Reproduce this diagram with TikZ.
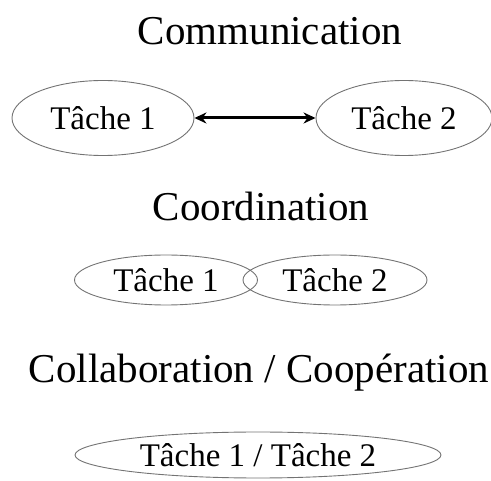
\documentclass[tikz,border=0pt]{standalone}
\usepackage{fontspec}
\setmainfont{Liberation Serif}
\usetikzlibrary{shapes.geometric}
\usetikzlibrary{arrows.meta}

\tikzset{
  titre/.style={font=\fontsize{41}{45}\selectfont},
  tache/.style={draw=black!55, line width=0.9pt, ellipse, inner sep=0pt,
    font=\fontsize{33}{36}\selectfont},
}

\begin{document}
\begin{tikzpicture}[x=1pt, y=-1pt]
    \useasboundingbox (0, 0) rectangle (491, 481);

    \node[titre] (comm) at (270, 31) {Communication};
    \node[tache, minimum width=182pt, minimum height=75pt] (t1) at (103, 118) {Tâche 1};
    \node[tache, minimum width=176pt, minimum height=75pt] (t2) at (404, 118) {Tâche 2};
    \draw[{Stealth[length=12pt, width=11pt]}-{Stealth[length=12pt, width=11pt]}, line width=3pt] (t1) -- (t2);

    \node[titre] (coord) at (261, 206) {Coordination};
    \node[tache, minimum width=183pt, minimum height=50pt] (t3) at (166, 280) {Tâche 1};
    \node[tache, minimum width=184pt, minimum height=50pt] (t4) at (335, 280) {Tâche 2};

    \node[titre, inner sep=0pt] (collab) at (259, 373) {Collaboration / Coopération};
    \node[tache, minimum width=366pt, minimum height=46pt] (t5) at (258, 455) {Tâche 1 / Tâche 2};
\end{tikzpicture}
\end{document}
